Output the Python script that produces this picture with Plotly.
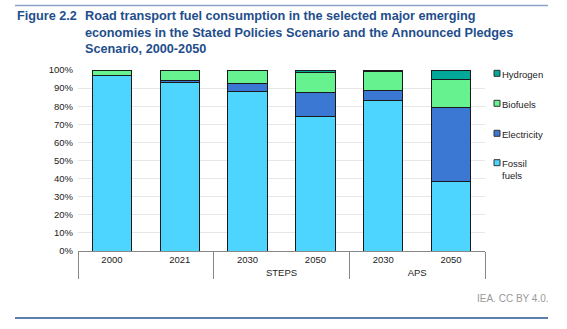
import plotly.graph_objects as go

# Road transport fuel shares by scenario and year
scenarios = ["", "", "STEPS", "STEPS", "APS", "APS"]
years = ["2000", "2021", "2030", "2050", "2030", "2050"]
fossil = [97.0, 93.0, 88.0, 74.4, 83.2, 38.3]
electricity = [0.0, 1.0, 4.4, 13.4, 5.5, 40.8]
biofuels = [3.0, 6.0, 7.6, 11.0, 10.6, 15.5]
hydrogen = [0.0, 0.0, 0.0, 1.2, 0.7, 5.4]

tick_vals = [0, 10, 20, 30, 40, 50, 60, 70, 80, 90, 100]
tick_text = [f"{v}%" for v in tick_vals]

series = [
    ("Fossil<br>fuels", fossil, "#4dd4ff"),
    ("Electricity", electricity, "#3a78d4"),
    ("Biofuels", biofuels, "#66f28f"),
    ("Hydrogen", hydrogen, "#00a99a"),
]

W, H = 567, 329
ML, MR, MT, MB = 78, 82, 70, 78
PW, PH = W - ML - MR, H - MT - MB


def px(x):
    """Pixel x -> paper x."""
    return (x - ML) / PW


def py(y):
    """Pixel y (from top) -> paper y."""
    return (H - MB - y) / PH


x_cats = [[s if s else " " for s in scenarios], years]

fig = go.Figure()
for name, vals, color in series:
    fig.add_trace(go.Bar(
        x=x_cats, y=vals, name=name,
        marker=dict(color=color, line=dict(color="#1a1a1a", width=1)),
        width=0.58,
    ))

fig.update_layout(
    barmode="stack",
    width=W, height=H,
    margin=dict(l=ML, r=MR, t=MT, b=MB),
    paper_bgcolor="white", plot_bgcolor="white",
    font=dict(family="Liberation Sans, Arial, sans-serif", size=9.5, color="#222"),
    showlegend=False,
)
fig.update_yaxes(
    range=[0, 100], tickvals=tick_vals, ticktext=tick_text,
    showgrid=True, gridcolor="#e6e6e6", gridwidth=1,
    zeroline=False, showline=False, ticks="", ticklabelstandoff=4,
)
fig.update_xaxes(
    type="multicategory", showline=True, linecolor="#888", linewidth=1,
    showdividers=True, dividercolor="#888", dividerwidth=1,
    tickfont=dict(size=9.5, color="#222"),
)

# Legend drawn beside the plot: small outlined squares with labels
legend_rows = [162.7, 133.3, 103.3, 73.3]  # fossil, electricity, biofuels, hydrogen
for (name, _, color), yc in zip(series, legend_rows):
    fig.add_shape(type="rect", xref="paper", yref="paper",
                  x0=px(494), x1=px(500), y0=py(yc + 3), y1=py(yc - 3),
                  fillcolor=color, line=dict(color="#333", width=1))
    fig.add_annotation(xref="paper", yref="paper", x=px(500), y=py(yc - 6.5),
                       xanchor="left", yanchor="top", align="left",
                       showarrow=False, text=name,
                       font=dict(size=9.5, color="#222"))

title_color = "#1f4e8c"
fig.add_annotation(
    xref="paper", yref="paper", x=px(15), y=py(7),
    xanchor="left", yanchor="top", align="left", showarrow=False,
    text="<b>Figure 2.2</b>", font=dict(size=12.7, color=title_color),
)
fig.add_annotation(
    xref="paper", yref="paper", x=px(83), y=py(7),
    xanchor="left", yanchor="top", align="left", showarrow=False,
    text=("<b>Road transport fuel consumption in the selected major emerging<br>"
          "economies in the Stated Policies Scenario and the Announced Pledges<br>"
          "Scenario, 2000-2050</b>"),
    font=dict(size=12.7, color=title_color),
)
fig.add_annotation(
    xref="paper", yref="paper", x=px(551), y=py(298),
    xanchor="right", yanchor="middle", showarrow=False,
    text="IEA. CC BY 4.0.", font=dict(size=10, color="#9a9a9a"),
)
fig.add_shape(type="line", xref="paper", yref="paper",
              x0=px(15), x1=px(548), y0=py(5.5), y1=py(5.5),
              line=dict(color="#8aa3c6", width=1.5))
fig.add_shape(type="line", xref="paper", yref="paper",
              x0=px(15), x1=px(548), y0=py(318), y1=py(318),
              line=dict(color="#2a5590", width=1.3))
fig.write_html("out.html")
